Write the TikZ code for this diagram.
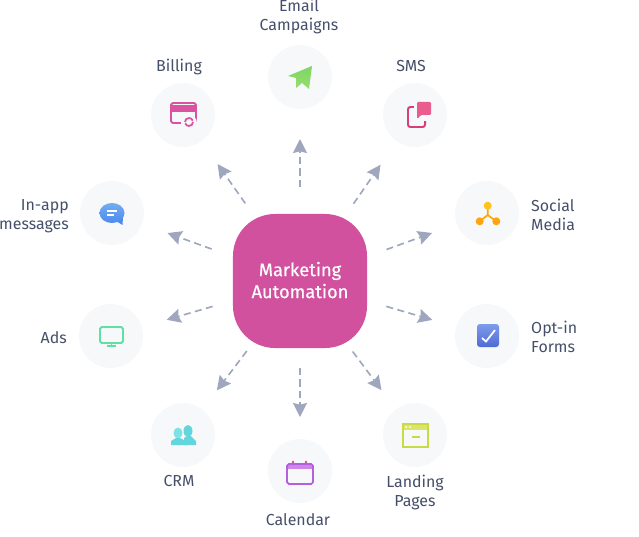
\documentclass[tikz,border=0pt]{standalone}
\usepackage{fontspec}
\setmainfont{Fira Sans}
\usepackage{xcolor}
\usetikzlibrary{arrows.meta,shapes,calc}
\definecolor{hubpink}{RGB}{209,81,159}
\definecolor{spotgrey}{RGB}{246,248,250}
\definecolor{inkgrey}{RGB}{69,79,105}
\definecolor{flowgrey}{RGB}{158,167,190}
\definecolor{planetop}{RGB}{150,222,110}
\definecolor{planelow}{RGB}{125,214,100}
\definecolor{cardpink}{RGB}{217,83,160}
\definecolor{smsred}{RGB}{214,63,120}
\definecolor{smspink}{RGB}{232,92,142}
\definecolor{chattop}{RGB}{115,172,243}
\definecolor{chatlow}{RGB}{78,138,235}
\definecolor{dotyellow}{RGB}{255,194,30}
\definecolor{dotorange}{RGB}{255,164,17}
\definecolor{screengreen}{RGB}{95,224,165}
\definecolor{boxtop}{RGB}{127,155,234}
\definecolor{boxlow}{RGB}{79,107,213}
\definecolor{crmcyan}{RGB}{98,214,220}
\definecolor{crmlight}{RGB}{125,226,230}
\definecolor{calband}{RGB}{207,134,230}
\definecolor{calline}{RGB}{180,95,224}
\definecolor{pagetop}{RGB}{221,229,102}
\definecolor{pageline}{RGB}{201,218,69}

\begin{document}
\begin{tikzpicture}[x=.03cm,y=-.03cm]

    \tikzstyle{spot}=[circle,fill=spotgrey,minimum size=1.92cm,inner sep=0pt]
    \tikzstyle{tag}=[text=inkgrey,inner sep=0pt,font=\fontsize{13.6}{16.15}\selectfont]
    \tikzstyle{flow}=[draw=flowgrey,line width=1.4pt,dash pattern=on 6pt off 3.8pt,-{Stealth[length=12pt,width=12pt,inset=1.5pt]}]
    \tikzset{gap/.style 2 args={shorten <=#1*.03cm,shorten >=#2*.03cm}}

    \useasboundingbox (0,0) rectangle (639,537);

    \node[fill=hubpink,minimum size=4.02cm,rounded corners=1.26cm,text=white,align=center,text depth=1.7pt,font=\fontsize{15.6}{18.7}\selectfont\addfontfeature{FakeBold=0.4}] (hub) at (300,281) {Marketing\\Automation};

    \node[spot] (email) at (300,77) {};
    \node[spot] (billing) at (183,115) {};
    \node[spot] (sms) at (415,115) {};
    \node[spot] (inapp) at (112,213) {};
    \node[spot] (social) at (487,213) {};
    \node[spot] (ads) at (111,336) {};
    \node[spot] (optin) at (487,336) {};
    \node[spot] (crm) at (183,435) {};
    \node[spot] (calendar) at (300,471) {};
    \node[spot] (landing) at (415,435) {};

    \node[tag,align=center] (emailtext) at (299,16.5) {Email\\Campaigns};
    \node[tag] (billingtext) at (179,66.5) {Billing};
    \node[tag] (smstext) at (411,66) {SMS};
    \node[tag,align=right,anchor=east] (inapptext) at (69,216.5) {In-app\\messages};
    \node[tag,align=left,anchor=west] (socialtext) at (531,215) {Social\\Media};
    \node[tag,anchor=east] (adstext) at (67,338) {Ads};
    \node[tag,align=left,anchor=west] (optintext) at (531,337) {Opt-in\\Forms};
    \node[tag] (crmtext) at (179,481) {CRM};
    \node[tag] (calendartext) at (298,520) {Calendar};
    \node[tag,align=center] (landingtext) at (415,492.5) {Landing\\Pages};

    \draw[flow,gap={94}{62}] (hub.center) -- (email.center);
    \draw[flow,gap={95}{60}] (hub.center) -- (billing.center);
    \draw[flow,gap={94}{60.5}] (hub.center) -- (sms.center);
    \draw[flow,gap={94}{59}] (hub.center) -- (inapp.center);
    \draw[flow,gap={92}{58.5}] (hub.center) -- (social.center);
    \draw[flow,gap={91}{58}] (hub.center) -- (ads.center);
    \draw[flow,gap={90}{57}] (hub.center) -- (optin.center);
    \draw[flow,gap={88}{56}] (hub.center) -- (crm.center);
    \draw[flow,gap={87}{54}] (hub.center) -- (calendar.center);
    \draw[flow,gap={88}{56}] (hub.center) -- (landing.center);

    % email
    \begin{scope}[shift={(email.center)}]
        \shade[top color=planelow,bottom color=planetop] (12,-11) -- (-12,-1) -- (-4,1) -- (-4,11) -- (2,6) -- (9,12) -- cycle;
    \end{scope}
    % billing
    \begin{scope}[shift={(billing.center)},line width=1.6pt]
        \draw[draw=cardpink,rounded corners=2pt] (-12,-12) rectangle (13,8);
        \fill[cardpink] (-12,-10) rectangle (13,-3);
        \fill[spotgrey] (6,8) circle (8);
        \draw[cardpink,line width=1.5pt] (2,7) arc (180:340:4);
        \draw[cardpink,line width=1.5pt] (10,7) arc (0:160:4);
    \end{scope}
    % sms
    \begin{scope}[shift={(sms.center)}]
        \draw[draw=smsred,line width=1.7pt,rounded corners=2pt] (-7,-8) rectangle (10,12);
        \fill[spotgrey] (-1,-15) rectangle (18,6);
        \fill[smspink,rounded corners=1pt] (2,-13) -- (16,-13) -- (16,0) -- (6,0) -- (2,4) -- cycle;
    \end{scope}
    % inapp
    \begin{scope}[shift={(inapp.center)}]
        \fill[chatlow] (4,8) -- (10.5,12) -- (11,4) -- cycle;
        \shade[top color=chattop,bottom color=chatlow] (0,0) ellipse (12.5 and 10);
        \draw[white,line width=1.4pt] (-5,-2) -- (5,-2) (-5,2) -- (2,2);
    \end{scope}
    % social
    \begin{scope}[shift={(social.center)}]
        \draw[dotorange,line width=1.4pt] (.7,-7) -- (.7,2) (-7.3,8.3) -- (.7,2) -- (9.3,8.3);
        \fill[dotyellow] (.7,-7.3) circle (4);
        \fill[dotorange] (-7.3,8.3) circle (4);
        \fill[dotorange] (9.3,8.3) circle (4);
    \end{scope}
    % ads
    \begin{scope}[shift={(ads.center)},draw=screengreen]
        \draw[line width=1.6pt,rounded corners=1.5pt] (-11,-9) rectangle (12,7);
        \draw[line width=1.6pt] (.5,7) -- (.5,10) (-4,10) -- (5,10);
    \end{scope}
    % optin
    \begin{scope}[shift={(optin.center)}]
        \shade[top color=boxtop,bottom color=boxlow,rounded corners=2.5pt] (-10,-12) rectangle (12,11);
        \draw[white,line width=1.5pt] (-5,2) -- (-1,5.5) -- (8,-6);
    \end{scope}
    % crm
    \begin{scope}[shift={(crm.center)}]
        \fill[crmcyan] (5,-4) ellipse (4.5 and 6);
        \fill[crmcyan] (1,10) -- (1,3) -- (4,1) -- (8,1) -- (13,6) -- (13,10) -- cycle;
        \fill[crmlight] (-5,-2) ellipse (4.5 and 5.5);
        \fill[crmcyan] (-12,10) -- (-12,6) -- (-7,3) -- (-3,3) -- (3,6) -- (3,10) -- cycle;
    \end{scope}
    % calendar
    \begin{scope}[shift={(calendar.center)}]
        \fill[calband] (-13,-7) rectangle (13,-2);
        \draw[calline,line width=1.5pt,rounded corners=1.5pt] (-13,-7) rectangle (13,13);
        \fill[hubpink] (-7,-9) circle (1.4) (6,-9) circle (1.4);
    \end{scope}
    % landing
    \begin{scope}[shift={(landing.center)}]
        \fill[pagetop] (-12,-11) rectangle (13,-5);
        \draw[pageline,line width=1.4pt] (-12,-11) rectangle (13,12);
        \fill[white] (-9,-8) circle (1) (-5,-8) circle (1);
        \draw[pageline,line width=1.4pt] (-3,2) -- (5,2);
    \end{scope}

\end{tikzpicture}
\end{document}
